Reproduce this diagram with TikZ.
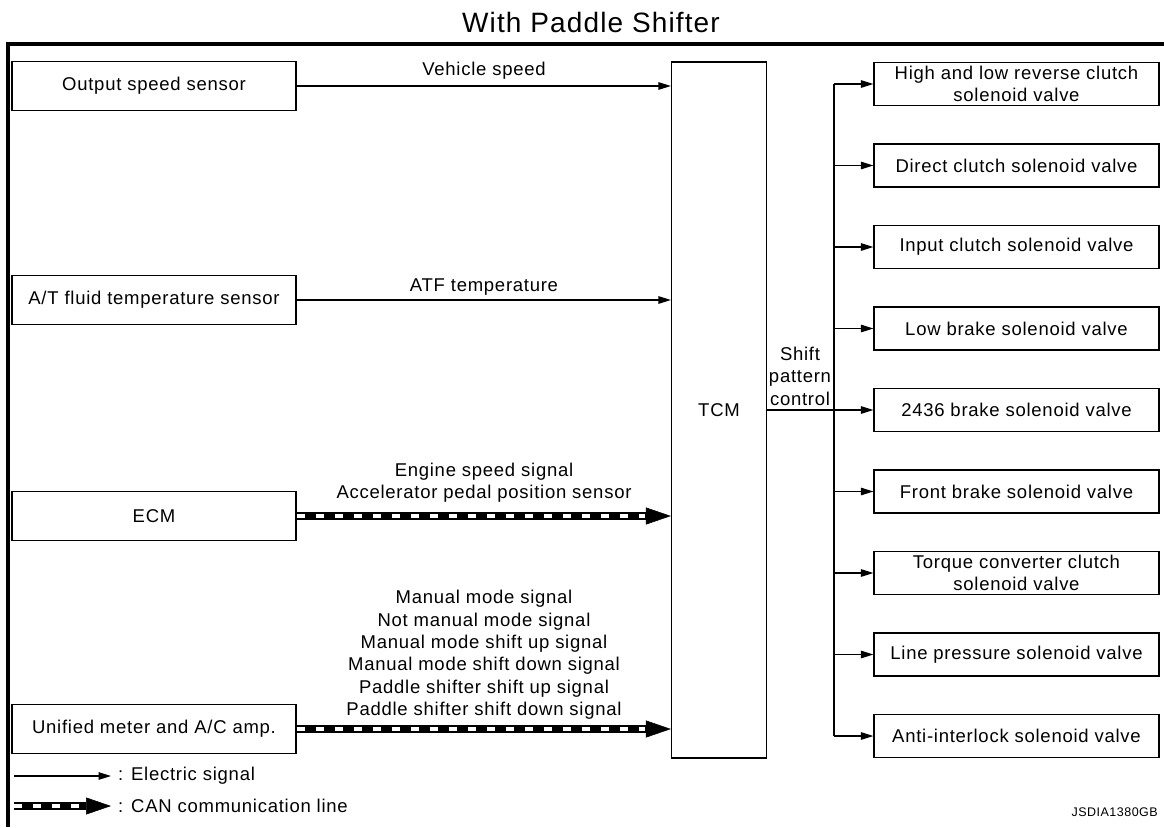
\documentclass[tikz,border=0pt]{standalone}
\usepackage{fontspec}
\setmainfont[LetterSpace=4]{Liberation Sans}
\usetikzlibrary{arrows.meta,positioning}

\begin{document}
\begin{tikzpicture}[
  x=1pt, y=-1pt,
  >=Stealth,
  txt/.style={font=\fontsize{18.5}{22.4}\selectfont},
  box/.style={txt, draw, line width=1.2pt, inner sep=0pt, align=center},
  inbox/.style={box, minimum width=284pt, minimum height=49pt},
  valve/.style={box, minimum width=285pt, minimum height=43pt},
  lbl/.style={txt, inner sep=0pt, align=center},
  sig/.style={line width=1.2pt, -{Triangle[length=12.5pt,width=7.5pt]}},
  can/.style={line width=8pt, -{Triangle[length=25pt,width=17pt,line width=0.5pt]},
    postaction={draw=white, line width=3.6pt, dash pattern=on 8pt off 11pt, -, shorten >=26pt}}
]
\useasboundingbox (0,0) rectangle (1164,827);

% title and frame
\node[font=\fontsize{28}{32}\selectfont, inner sep=0pt] (title) at (591,22) {With Paddle Shifter};
\draw[line width=3.5pt] (1164,44) -- (8,44) -- (8,827);

% inputs
\node[inbox] (outspd) at (154,86) {Output speed sensor};
\node[inbox] (atftemp) at (154,300) {A/T fluid temperature sensor};
\node[inbox] (ecm) at (154,516) {ECM};
\node[inbox] (meter) at (154,729) {Unified meter and A/C amp.};

% control unit
\node[box, minimum width=95pt, minimum height=696pt] (tcm) at (719,410) {TCM};

% input signals
\draw[sig] (outspd.east) -- (tcm.west |- outspd);
\node[lbl] (lvspd) at (484,71) {Vehicle speed};
\draw[sig] (atftemp.east) -- (tcm.west |- atftemp);
\node[lbl] (latf) at (484,287) {ATF temperature};
\draw[can] (ecm.east) -- (tcm.west |- ecm);
\node[lbl] (lecm) at (484,483) {Engine speed signal\\Accelerator pedal position sensor};
\draw[can] (meter.east) -- (tcm.west |- meter);
\node[lbl] (lmeter) at (484,655) {Manual mode signal\\Not manual mode signal\\Manual mode shift up signal\\
  Manual mode shift down signal\\Paddle shifter shift up signal\\Paddle shifter shift down signal};

% outputs: solenoid valves
\foreach \txt [count=\k] in {
  {High and low reverse clutch\\solenoid valve},
  {Direct clutch solenoid valve},
  {Input clutch solenoid valve},
  {Low brake solenoid valve},
  {2436 brake solenoid valve},
  {Front brake solenoid valve},
  {Torque converter clutch\\solenoid valve},
  {Line pressure solenoid valve},
  {Anti-interlock solenoid valve}} {
  \node[valve] (v\k) at (1016.5,{84+81.5*(\k-1)}) {\txt};
}

% bus to the valves
\coordinate (bus) at (834,410);
\draw[line width=1.2pt] (tcm.east) -- (bus);
\draw[line width=1.2pt] (bus |- v1) -- (bus |- v9);
\foreach \k in {1,...,9} {
  \draw[sig] (bus |- v\k) -- (v\k.west);
}
\node[lbl] (lshift) at (800,376) {Shift\\pattern\\control};

% legend
\coordinate (lgsigs) at (14,776);
\node[txt, inner ysep=0pt, inner xsep=7pt, anchor=west] (lgsig) at (111,776) {: Electric signal};
\draw[sig] (lgsigs) -- (lgsig.west);
\coordinate (lgcans) at (14,806);
\node[txt, inner ysep=0pt, inner xsep=7pt, anchor=west] (lgcan) at (111,806) {: CAN communication line};
\draw[can] (lgcans) -- (lgcan.west);

\node[font=\fontsize{12.5}{14}\selectfont, inner sep=0pt, anchor=east] (code) at (1158,812) {JSDIA1380GB};
\end{tikzpicture}
\end{document}
